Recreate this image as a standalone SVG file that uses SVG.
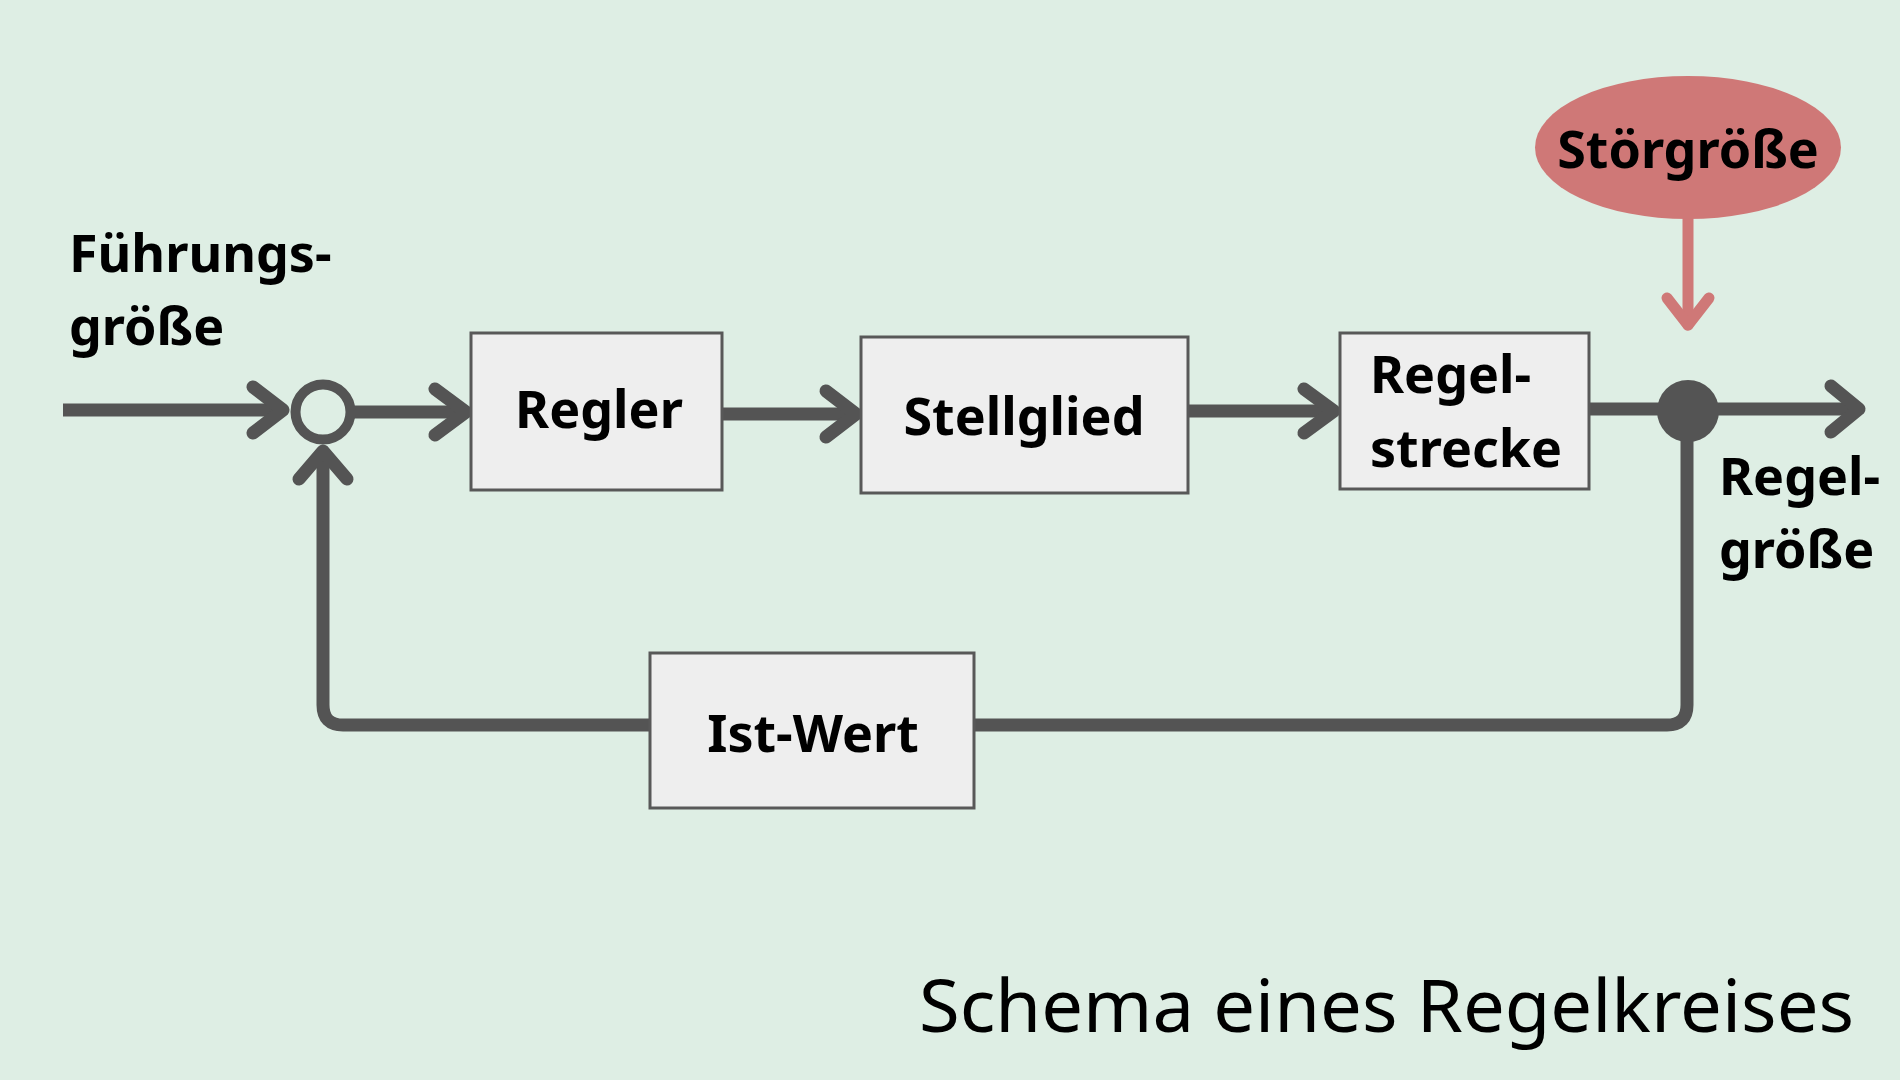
<svg xmlns="http://www.w3.org/2000/svg" width="1900" height="1080" viewBox="0 0 1900 1080">
  <style>
    .bg { fill: #deeee4; }
    .box { fill: #eeeeee; stroke: #585858; stroke-width: 3; }
    .lbl { font-family: "Noto Sans", "Open Sans", sans-serif; font-weight: 700; font-size: 52px; fill: #000000; }
    .title { font-family: "Noto Sans", "Open Sans", sans-serif; font-weight: 400; font-size: 73px; fill: #000000; }
    .wire { fill: none; stroke: #545454; stroke-width: 13; stroke-linecap: round; stroke-linejoin: round; }
    .wire-flat { fill: none; stroke: #545454; stroke-width: 13; stroke-linecap: butt; stroke-linejoin: round; }
    .dist { fill: none; stroke: #cf7877; stroke-width: 11; stroke-linecap: round; stroke-linejoin: round; }
  </style>
  <rect class="bg" x="0" y="0" width="1900" height="1080"/>

  <g id="connectors">
    <!-- input -->
    <path class="wire-flat" d="M63,410 H283"/>
    <path class="wire" d="M253,387 L283,410 L253,433"/>
    <!-- sum -> Regler -->
    <path class="wire-flat" d="M352,412 H466"/>
    <path class="wire" d="M435,389 L466,412 L435,435"/>
    <!-- Regler -> Stellglied -->
    <path class="wire-flat" d="M722,414 H856"/>
    <path class="wire" d="M826,391 L856,414 L826,437"/>
    <!-- Stellglied -> Regelstrecke -->
    <path class="wire-flat" d="M1188,411 H1334"/>
    <path class="wire" d="M1304,389 L1334,411 L1304,433"/>
    <!-- Regelstrecke -> output -->
    <path class="wire-flat" d="M1589,409 H1859"/>
    <path class="wire" d="M1831,386 L1859,409 L1831,432"/>
    <!-- feedback -->
    <path class="wire" d="M1687,430 V705 Q1687,725 1667,725 H343 Q323,725 323,705 V452"/>
    <path class="wire" d="M299,479 L323,451 L347,479"/>
    <!-- disturbance -->
    <path class="dist" d="M1688,219 V325"/>
    <path class="dist" d="M1667,298 L1688,325 L1709,298"/>
  </g>

  <g id="summing-point">
    <circle cx="323" cy="412" r="27.5" fill="none" stroke="#545454" stroke-width="10"/>
  </g>
  <g id="branch-point">
    <circle cx="1688" cy="411" r="31" fill="#545454"/>
  </g>

  <g id="fuehrungsgroesse">
    <text class="lbl" x="69" y="272">Führungs-</text>
    <text class="lbl" x="69" y="345">größe</text>
  </g>

  <g id="regler">
    <rect class="box" x="471" y="333" width="251" height="157"/>
    <text class="lbl" x="599" y="428" text-anchor="middle">Regler</text>
  </g>

  <g id="stellglied">
    <rect class="box" x="861" y="337" width="327" height="156"/>
    <text class="lbl" x="1024" y="435" text-anchor="middle">Stellglied</text>
  </g>

  <g id="regelstrecke">
    <rect class="box" x="1340" y="333" width="249" height="156"/>
    <text class="lbl" x="1370" y="393">Regel-</text>
    <text class="lbl" x="1370" y="467">strecke</text>
  </g>

  <g id="stoergroesse">
    <ellipse cx="1688" cy="147.5" rx="153" ry="71.5" fill="#cf7877"/>
    <text class="lbl" x="1688" y="168" text-anchor="middle">Störgröße</text>
  </g>

  <g id="regelgroesse">
    <text class="lbl" x="1719" y="495">Regel-</text>
    <text class="lbl" x="1719" y="568">größe</text>
  </g>

  <g id="ist-wert">
    <rect class="box" x="650" y="653" width="324" height="155"/>
    <text class="lbl" x="813" y="752" text-anchor="middle">Ist-Wert</text>
  </g>

  <g id="title">
    <text class="title" x="919" y="1032" textLength="935" lengthAdjust="spacingAndGlyphs">Schema eines Regelkreises</text>
  </g>
</svg>
